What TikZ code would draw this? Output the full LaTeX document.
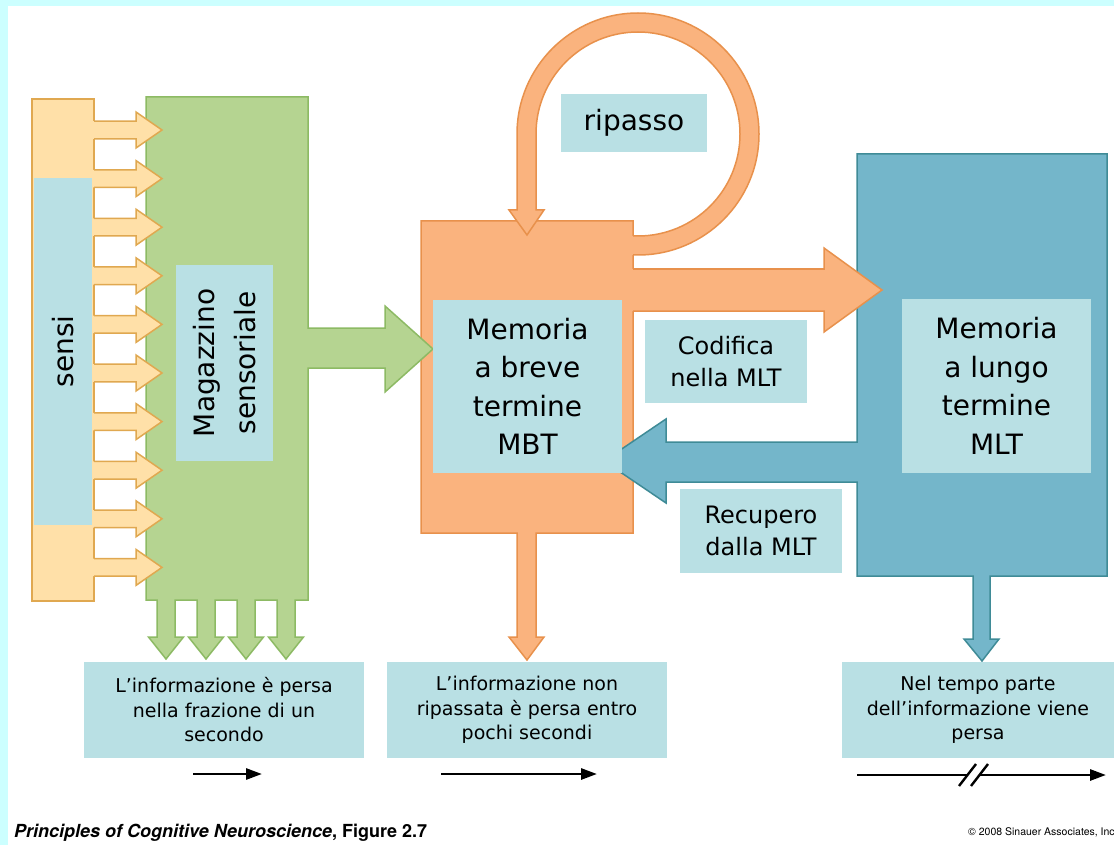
\documentclass[tikz,border=0pt]{standalone}
\usepackage{fontspec}
\setmainfont{DejaVu Sans}
\newfontfamily\footfont{TeX Gyre Heros}
\usetikzlibrary{arrows.meta}

\definecolor{framecol}{HTML}{CCFFFF}
\definecolor{lblue}{HTML}{B9E0E4}
\definecolor{orfill}{HTML}{FAB37E}
\definecolor{ordraw}{HTML}{E8914C}
\definecolor{grfill}{HTML}{B5D491}
\definecolor{grdraw}{HTML}{8DBA64}
\definecolor{blfill}{HTML}{74B6CA}
\definecolor{bldraw}{HTML}{3F8B97}
\definecolor{pefill}{HTML}{FFE0A8}
\definecolor{pedraw}{HTML}{E0A850}

\begin{document}
\begin{tikzpicture}[x=1pt,y=-1pt, line join=miter,
  edge/.style={line width=1.5pt},
  lbl/.style={fill=lblue, inner sep=0pt, align=center, text=black},
  big/.style={lbl, font=\fontsize{28}{38.5}\selectfont},
  mid/.style={lbl, font=\fontsize{24}{32}\selectfont},
  small/.style={lbl, font=\fontsize{19}{24.5}\selectfont},
  timearrow/.style={line width=2.8pt, -{Triangle[length=16pt,width=11pt]}},
  breakmark/.style={line width=2.4pt},
]

% page background with cyan frame
\fill[framecol] (0,0) rectangle (1114,845);
\fill[white] (8,6) rectangle (1114,845);
\useasboundingbox (0,0) rectangle (1114,845);

% short-term store with its output arrow
\filldraw[fill=orfill, draw=ordraw, edge]
  (421,221) -- (633,221) -- (633,533) -- (536,533) -- (536,637) -- (544,637)
  -- (527,660) -- (509,637) -- (517,637) -- (517,533) -- (421,533) -- cycle;

% rehearsal loop
\fill[orfill] (629,236) -- (638,236) arc[start angle=90, end angle=-180, radius=102]
  -- (536,210) -- (544,210) -- (527,235) -- (509,210) -- (517,210) -- (517,134)
  arc[start angle=-180, end angle=90, radius=121] -- (629,255) -- cycle;
\draw[ordraw, edge] (633,236) -- (638,236) arc[start angle=90, end angle=-180, radius=102]
  -- (536,210) -- (544,210) -- (527,235) -- (509,210) -- (517,210) -- (517,134)
  arc[start angle=-180, end angle=90, radius=121] -- (633,255);

% long-term store with retrieval arrow and output arrow
\filldraw[fill=blfill, draw=bldraw, edge]
  (857,154) -- (1107,154) -- (1107,576) -- (990,576) -- (990,639) -- (999,639)
  -- (982,661) -- (964,639) -- (973,639) -- (973,576) -- (857,576) -- (857,482)
  -- (666,482) -- (666,503) -- (604,461) -- (666,419) -- (666,442) -- (857,442) -- cycle;

% encoding arrow
\fill[orfill] (629,269) -- (824,269) -- (824,248) -- (882,290) -- (824,332)
  -- (824,311) -- (629,311) -- cycle;
\draw[ordraw, edge] (633,269) -- (824,269) -- (824,248) -- (882,290) -- (824,332)
  -- (824,311) -- (633,311);

% sensory store
\filldraw[fill=grfill, draw=grdraw, edge]
  (146,97) -- (308,97) -- (308,328) -- (385,328) -- (385,306) -- (433,349)
  -- (385,392) -- (385,368) -- (308,368) -- (308,600)
  -- (295,600) -- (295,637) -- (303.5,637) -- (286,659) -- (268.5,637) -- (277,637) -- (277,600)
  -- (255,600) -- (255,637) -- (263.5,637) -- (246,659) -- (228.5,637) -- (237,637) -- (237,600)
  -- (215,600) -- (215,637) -- (223.5,637) -- (206,659) -- (188.5,637) -- (197,637) -- (197,600)
  -- (175,600) -- (175,637) -- (183.5,637) -- (166,659) -- (148.5,637) -- (157,637) -- (157,600)
  -- (146,600) -- cycle;

% senses bar and its ten input arrows
\filldraw[fill=pefill, draw=pedraw, edge] (32,99) rectangle (94,601);
\foreach \i in {0,...,9}{
  \pgfmathsetmacro{\yc}{130+48.6*\i}
  \fill[pefill] (91,\yc-8.8) -- (136,\yc-8.8) -- (136,\yc-18) -- (162,\yc)
    -- (136,\yc+18) -- (136,\yc+8.8) -- (91,\yc+8.8) -- cycle;
  \draw[pedraw, edge] (94,\yc-8.8) -- (136,\yc-8.8) -- (136,\yc-18) -- (162,\yc)
    -- (136,\yc+18) -- (136,\yc+8.8) -- (94,\yc+8.8);
}

% labels
\node[big, rotate=90, minimum width=347pt, minimum height=58pt] (sensi) at (63,351.5) {sensi};
\node[big, rotate=90, minimum width=196pt, minimum height=97pt,
      font=\fontsize{28}{41}\selectfont] (magaz) at (224.5,363) {Magazzino\\sensoriale};
\node[big, minimum width=146pt, minimum height=58pt] (ripasso) at (634,123) {ripasso};
\node[big, minimum width=189pt, minimum height=173pt] (mbt) at (527.5,386.5)
  {Memoria\\a breve\\termine\\MBT};
\node[big, minimum width=189pt, minimum height=174pt] (mlt) at (996.5,386)
  {Memoria\\a lungo\\termine\\MLT};
\node[mid, minimum width=162pt, minimum height=83pt] (cod) at (726,361.5) {Codifica\\nella MLT};
\node[mid, minimum width=162pt, minimum height=84pt] (rec) at (761,531) {Recupero\\dalla MLT};
\node[small, minimum width=280pt, minimum height=96pt] (lost1) at (224,710)
  {L’informazione è persa\\nella frazione di un\\secondo};
\node[small, minimum width=280pt, minimum height=96pt] (lost2) at (527,710)
  {L’informazione non\\ripassata è persa entro\\pochi secondi};
\node[small, minimum width=272pt, minimum height=96pt] (lost3) at (978,710)
  {Nel tempo parte\\dell’informazione viene\\persa};

% time scales
\coordinate (t1s) at (193,774); \coordinate (t1e) at (262,774);
\coordinate (t2s) at (441,774); \coordinate (t2e) at (597,774);
\coordinate (t3s) at (857,775); \coordinate (t3a) at (967.5,775);
\coordinate (t3b) at (979.5,775); \coordinate (t3e) at (1106,775);
\draw[timearrow] (t1s) -- (t1e);
\draw[timearrow] (t2s) -- (t2e);
\draw[line width=2.8pt] (t3s) -- (t3a);
\draw[timearrow] (t3b) -- (t3e);
\draw[breakmark] (959,786) -- (976,764);
\draw[breakmark] (971,786) -- (988,764);

% credits
\node[anchor=base west, inner sep=0pt, font=\footfont\fontsize{18}{20}\selectfont\bfseries] (title) at (14,837)
  {\itshape Principles of Cognitive Neuroscience\upshape, Figure 2.7};
\node[anchor=base west, inner sep=0pt, font=\footfont\fontsize{10.5}{12}\selectfont] (copy) at (968,835)
  {© 2008 Sinauer Associates, Inc};
\end{tikzpicture}
\end{document}
